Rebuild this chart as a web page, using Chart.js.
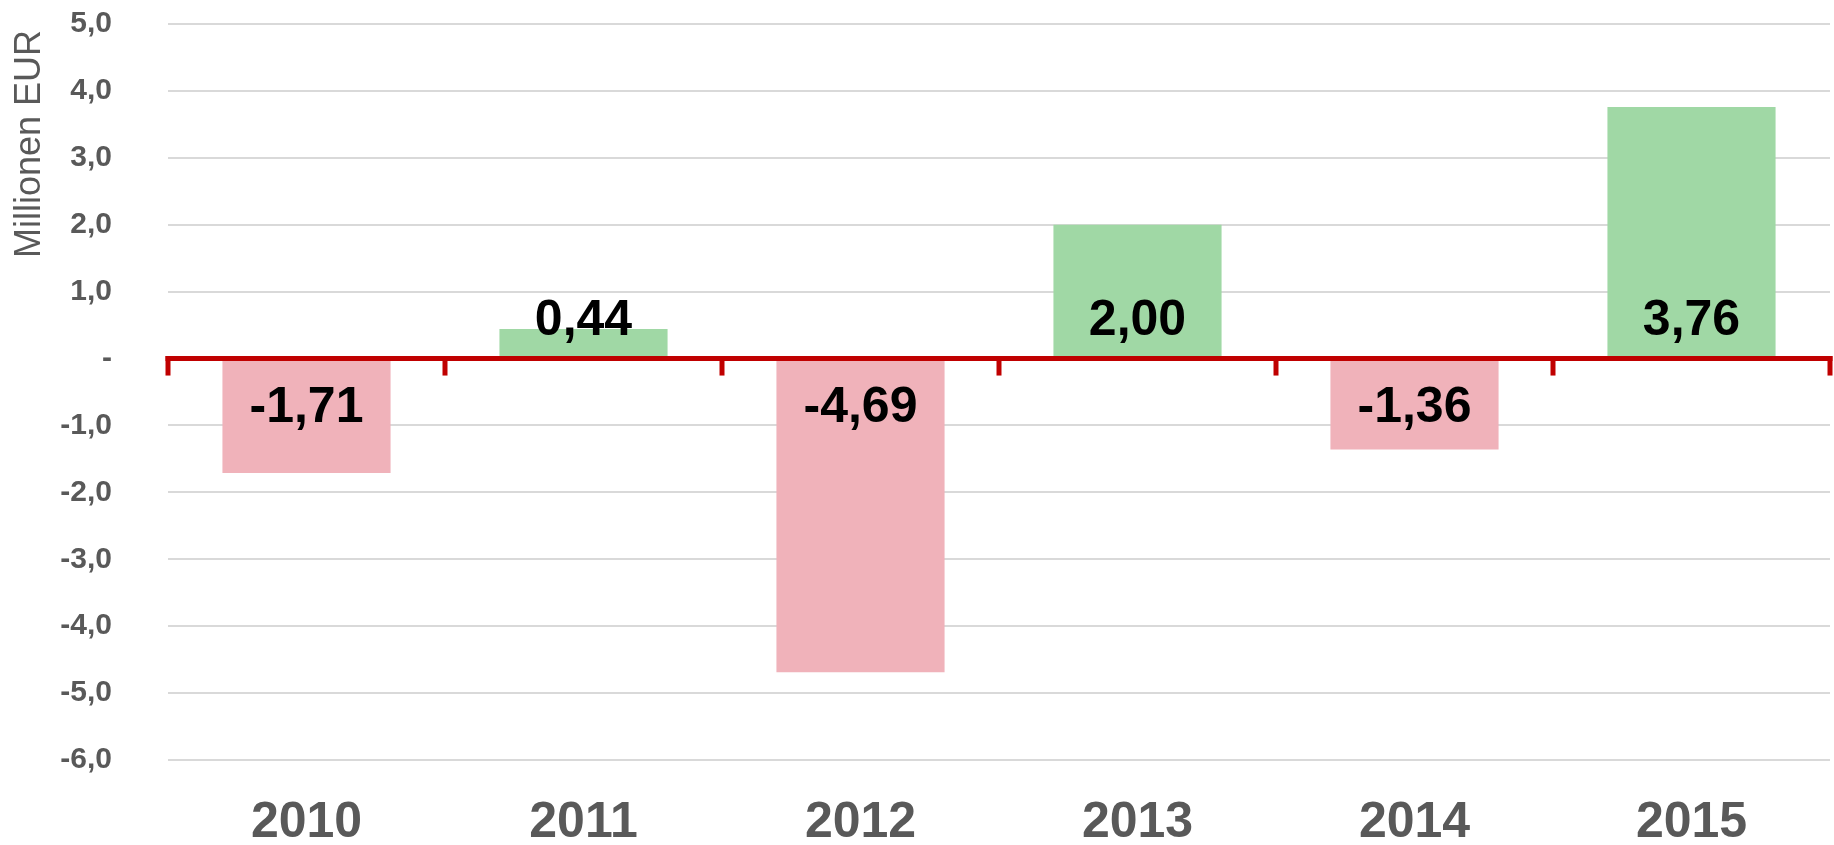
<!DOCTYPE html>
<html>
<head>
<meta charset="utf-8">
<script src="https://cdn.jsdelivr.net/npm/chart.js@4.4.0/dist/chart.umd.min.js"></script>
<style>
  html, body { margin: 0; padding: 0; background: #ffffff; }
  #wrap { width: 1834px; height: 845px; position: relative; }
</style>
</head>
<body>
<div id="wrap"><canvas id="c" width="1834" height="845"></canvas></div>
<script>
const categories = ["2010", "2011", "2012", "2013", "2014", "2015"];
const values = [-1.71, 0.44, -4.69, 2.00, -1.36, 3.76];
const yTicks = [-6, -5, -4, -3, -2, -1, 0, 1, 2, 3, 4, 5];
const yTitle = "Millionen EUR";

const POS_COLOR = "#A0D8A5";
const NEG_COLOR = "#F0B2BA";
const AXIS_RED = "#C00000";
const TEXT_GRAY = "#595959";
const FONT = "'Liberation Sans', Arial, sans-serif";

function fmt(v, d) { return v.toFixed(d).replace('.', ','); }

const zeroAxisPlugin = {
  id: 'zeroAxis',
  afterDatasetsDraw(chart) {
    const { ctx, chartArea, scales } = chart;
    const x = scales.x, y = scales.y;
    const y0 = y.getPixelForValue(0);
    ctx.save();
    ctx.strokeStyle = AXIS_RED;
    ctx.lineWidth = 5;
    ctx.lineCap = 'butt';
    ctx.beginPath();
    ctx.moveTo(chartArea.left - 2.5, y0);
    ctx.lineTo(chartArea.right + 2.5, y0);
    ctx.stroke();
    const n = categories.length;
    for (let i = 0; i <= n; i++) {
      let px;
      if (i === 0) px = chartArea.left;
      else if (i === n) px = chartArea.right;
      else px = (x.getPixelForValue(i - 1) + x.getPixelForValue(i)) / 2;
      ctx.beginPath();
      ctx.moveTo(px, y0 - 2.5);
      ctx.lineTo(px, y0 + 17);
      ctx.stroke();
    }
    // data labels (inside base of each bar)
    const meta = chart.getDatasetMeta(0);
    ctx.fillStyle = '#000000';
    ctx.font = "bold 50px " + FONT;
    ctx.textAlign = 'center';
    ctx.textBaseline = 'alphabetic';
    meta.data.forEach((bar, i) => {
      const v = values[i];
      const ly = v >= 0 ? y0 - 24 : y0 + 63;
      ctx.fillText(fmt(v, 2), bar.x, ly);
    });
    // y axis title
    ctx.fillStyle = TEXT_GRAY;
    ctx.font = "36px " + FONT;
    ctx.textAlign = 'center';
    ctx.textBaseline = 'middle';
    ctx.translate(30, 144);
    ctx.rotate(-Math.PI / 2);
    ctx.fillText(yTitle, 0, 0);
    ctx.restore();
  }
};

new Chart(document.getElementById('c'), {
  type: 'bar',
  data: {
    labels: categories,
    datasets: [{
      data: values,
      backgroundColor: values.map(v => v >= 0 ? POS_COLOR : NEG_COLOR),
      borderWidth: 0,
      barPercentage: 0.607,
      categoryPercentage: 1.0
    }]
  },
  options: {
    responsive: false,
    animation: false,
    devicePixelRatio: 1,
    layout: { padding: { top: 24, right: 4, left: 0, bottom: 0 } },
    plugins: {
      legend: { display: false },
      tooltip: { enabled: false }
    },
    scales: {
      x: {
        grid: { display: false, drawTicks: false },
        border: { display: false },
        ticks: {
          color: TEXT_GRAY,
          font: { family: FONT, size: 50, weight: 'bold' },
          padding: 33,
          maxRotation: 0
        },
        afterFit(scale) { scale.height = 85; }
      },
      y: {
        min: -6,
        max: 5,
        afterBuildTicks(scale) { scale.ticks = yTicks.map(v => ({ value: v })); },
        grid: {
          drawTicks: false,
          color: ctx => (ctx.tick && ctx.tick.value === 0) ? 'rgba(0,0,0,0)' : '#D9D9D9',
          lineWidth: 2
        },
        border: { display: false },
        ticks: {
          color: TEXT_GRAY,
          font: { family: FONT, size: 30, weight: 'bold' },
          padding: 56,
          callback: v => v === 0 ? '-' : fmt(v, 1)
        },
        title: { display: false },
        afterFit(scale) {
          scale.width = 168;
          scale.paddingTop = 0;
          scale.paddingBottom = 0;
        }
      }
    }
  },
  plugins: [zeroAxisPlugin]
});
</script>
</body>
</html>
